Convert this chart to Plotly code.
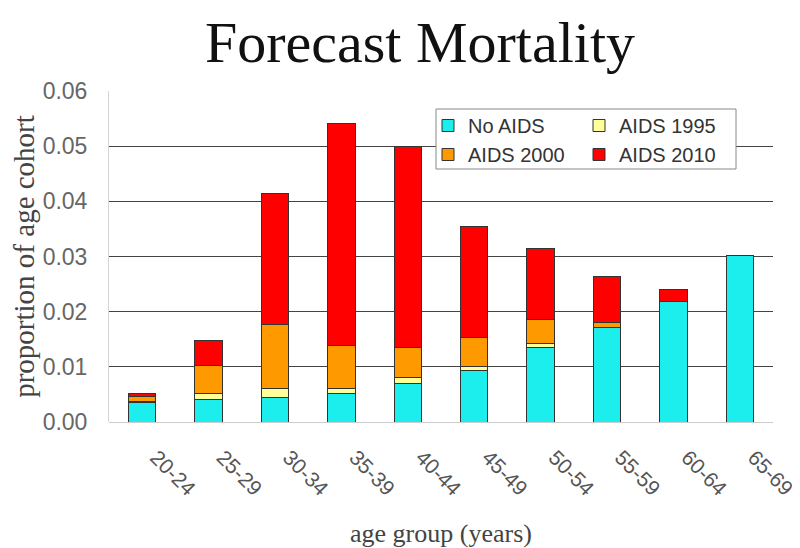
import plotly.graph_objects as go

age_groups = ["20-24", "25-29", "30-34", "35-39", "40-44", "45-49", "50-54", "55-59", "60-64", "65-69"]
no_aids   = [0.0035, 0.0041, 0.0045, 0.0052, 0.0070, 0.0093, 0.0135, 0.0171, 0.0218, 0.0301]
aids_1995 = [0.0002, 0.0010, 0.0016, 0.0009, 0.0010, 0.0008, 0.0008, 0.0001, 0.0000, 0.0000]
aids_2000 = [0.0009, 0.0051, 0.0116, 0.0077, 0.0055, 0.0052, 0.0042, 0.0009, 0.0001, 0.0000]
aids_2010 = [0.0005, 0.0045, 0.0238, 0.0404, 0.0365, 0.0201, 0.0130, 0.0083, 0.0022, 0.0001]
y_ticks = [0.00, 0.01, 0.02, 0.03, 0.04, 0.05, 0.06]

series = [
    ("No AIDS", no_aids, "#1CEDED", "legend"),
    ("AIDS 1995", aids_1995, "#FFFF99", "legend2"),
    ("AIDS 2000", aids_2000, "#FF9900", "legend"),
    ("AIDS 2010", aids_2010, "#FF0000", "legend2"),
]

fig = go.Figure()
for name, vals, color, leg in series:
    fig.add_trace(go.Bar(
        x=age_groups, y=vals, name=name, legend=leg,
        marker=dict(color=color, line=dict(color="#333333", width=1)),
    ))

OFF = 8  # page body margin
W, H = 800 - OFF, 548 - OFF
L, R, T, B = 109 - OFF, 27, 91 - OFF, 126
pw = W - L - R
ph = H - T - B

def px_x(x):
    return (x - OFF - L) / pw

def px_y(y):
    return (H - B - (y - OFF)) / ph

legend_font = dict(family="Liberation Sans, Arial, sans-serif", size=20, color="#333333")

fig.update_layout(
    width=W, height=H,
    margin=dict(l=L, r=R, t=T, b=B, autoexpand=False),
    paper_bgcolor="white", plot_bgcolor="white",
    barmode="stack", bargap=0.59,
    title=dict(text="Forecast Mortality", x=(420 - OFF) / W, xanchor="center",
               y=1 - (42 - OFF) / H, yanchor="middle",
               font=dict(family="Liberation Serif, Times New Roman, serif", size=58, color="#111111")),
    legend=dict(x=px_x(428), y=px_y(106), xanchor="left", yanchor="top", bgcolor="rgba(0,0,0,0)",
                font=legend_font, traceorder="normal", itemwidth=30),
    legend2=dict(x=px_x(579), y=px_y(106), xanchor="left", yanchor="top", bgcolor="rgba(0,0,0,0)",
                 font=legend_font, traceorder="normal", itemwidth=30),
    shapes=[dict(type="rect", xref="paper", yref="paper",
                 x0=px_x(436), x1=px_x(736), y0=px_y(169), y1=px_y(109),
                 line=dict(color="#888888", width=1), fillcolor="white", layer="above")],
    xaxis=dict(
        automargin=False,
        tickangle=45, ticks="outside", ticklen=14, tickcolor="rgba(0,0,0,0)",
        ticklabelshift=14,
        tickfont=dict(family="Liberation Sans, Arial, sans-serif", size=21, color="#555555"),
        title=dict(text="age group (years)", standoff=30,
                   font=dict(family="Liberation Serif, Times New Roman, serif", size=26, color="#444444")),
        showline=False, showgrid=False,
    ),
    yaxis=dict(
        automargin=False,
        range=[0, 0.06], tickvals=y_ticks, tickformat=".2f",
        tickfont=dict(family="Liberation Sans, Arial, sans-serif", size=23, color="#666666"),
        ticks="outside", ticklen=16, tickcolor="rgba(0,0,0,0)",
        showgrid=True, gridcolor="#444444", gridwidth=1,
        zeroline=True, zerolinecolor="#cccccc", zerolinewidth=1,
        showline=True, linecolor="#d5d5d5", linewidth=1,
        title=dict(text="proportion of age cohort", standoff=6,
                   font=dict(family="Liberation Serif, Times New Roman, serif", size=29, color="#444444")),
    ),
)

fig.write_html("out.html")
